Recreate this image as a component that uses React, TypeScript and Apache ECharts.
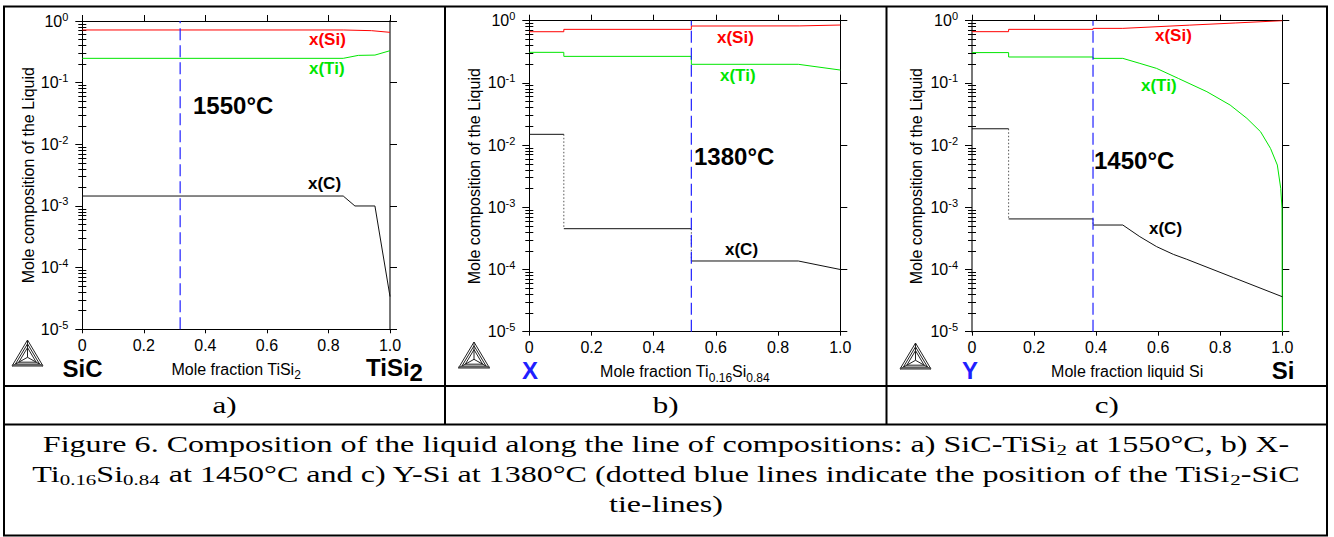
import React, { useEffect, useRef } from 'react';
import * as echarts from 'echarts';

// ---------- shared ticks ----------
const xTickValues = [0, 0.2, 0.4, 0.6, 0.8, 1.0];
const yDecades = [1e-5, 1e-4, 1e-3, 1e-2, 1e-1, 1];
const yMinor: number[] = [];
for (let d = -5; d < 0; d++) for (let k = 2; k <= 9; k++) yMinor.push(+(k * Math.pow(10, d)).toPrecision(3));

// ---------- panel a : SiC - TiSi2 at 1550 C ----------
const aSiX = [0, 0.848, 0.94, 1.0];
const aSiY = [0.715, 0.715, 0.697, 0.655];
const aTiX = [0, 0.848, 0.897, 0.951, 1.0];
const aTiY = [0.248, 0.248, 0.277, 0.28, 0.33];
const aCX = [0, 0.848, 0.886, 0.951, 1.0];
const aCY = [1.45e-3, 1.45e-3, 1.0e-3, 1.0e-3, 3.4e-5];
const aTie = 0.318;

// ---------- panel b : X - Ti0.16Si0.84 ----------
const bSiX = [0, 0.111, 0.111, 0.521, 0.521, 0.87, 1.0];
const bSiY = [0.665, 0.665, 0.726, 0.726, 0.821, 0.825, 0.852];
const bTiX = [0, 0.111, 0.111, 0.521, 0.521, 0.865, 1.0];
const bTiY = [0.31, 0.31, 0.267, 0.267, 0.199, 0.199, 0.161];
const bCX = [0, 0.111, 0.111, 0.521, 0.521, 0.865, 1.0];
const bCY = [0.0149, 0.0149, 4.53e-4, 4.53e-4, 1.37e-4, 1.37e-4, 1.0e-4];
const bTie = 0.521;

// ---------- panel c : Y - Si ----------
const cSiX = [0, 0.118, 0.118, 0.39, 0.39, 0.486, 0.7, 0.85, 1.0];
const cSiY = [0.666, 0.666, 0.726, 0.726, 0.753, 0.753, 0.848, 0.92, 1.0];
const cTiX = [0, 0.118, 0.118, 0.39, 0.39, 0.486, 0.541, 0.595, 0.665, 0.757, 0.832, 0.886, 0.93, 0.962, 0.984, 0.995, 0.999, 1.0];
const cTiY = [0.307, 0.307, 0.261, 0.261, 0.248, 0.248, 0.206, 0.171, 0.118, 0.0722, 0.044, 0.0269, 0.0164, 0.00885, 0.00478, 0.00201, 9.6e-4, 1e-5];
const cCX = [0, 0.118, 0.118, 0.39, 0.39, 0.486, 0.541, 0.595, 0.649, 0.692, 0.843, 1.0];
const cCY = [0.0183, 0.0183, 6.5e-4, 6.5e-4, 5.19e-4, 5.19e-4, 3.37e-4, 2.33e-4, 1.75e-4, 1.46e-4, 7.4e-5, 3.65e-5];
const cTie = 0.39;

// ---------- texts ----------
const yAxisName = 'Mole composition of the Liquid';
const xAxisNames = ['Mole fraction TiSi{s|2}', 'Mole fraction Ti{s|0.16}Si{s|0.84}', 'Mole fraction liquid Si'];
const temps = ['1550°C', '1380°C', '1450°C'];
const rowLabels = ['a)', 'b)', 'c)'];
const captionLines = [
  'Figure 6. Composition of the liquid along the line of compositions: a) SiC-TiSi{s|2} at 1550°C, b) X-',
  'Ti{s|0.16}Si{s|0.84} at 1450°C and c) Y-Si at 1380°C (dotted blue lines indicate the position of the TiSi{s|2}-SiC',
  'tie-lines)',
];

const SANS = 'Liberation Sans';
const SERIF = 'Liberation Serif';
const RED = '#ff0000';
const GREEN = '#00e600';
const BLUE = '#1f1fff';

const grids = [
  { left: 82.3, top: 21, width: 307.7, height: 308.3 },
  { left: 529.3, top: 20.7, width: 311, height: 311 },
  { left: 972, top: 20.7, width: 310.3, height: 311 },
];
const yNameGaps = [46, 47, 48];

const panels = [
  { si: [aSiX, aSiY], ti: [aTiX, aTiY], c: [aCX, aCY], tie: aTie },
  { si: [bSiX, bSiY], ti: [bTiX, bTiY], c: [bCX, bCY], tie: bTie },
  { si: [cSiX, cSiY], ti: [cTiX, cTiY], c: [cCX, cCY], tie: cTie },
];

function toPts(xs: number[], ys: number[]) {
  return xs.map((x, i) => [x, ys[i]]);
}
function withBreaks(xs: number[], ys: number[]) {
  const out: any[] = [];
  for (let i = 0; i < xs.length; i++) {
    if (i > 0 && xs[i] === xs[i - 1]) out.push([xs[i], '-']);
    out.push([xs[i], ys[i]]);
  }
  return out;
}
function jumps(xs: number[], ys: number[]) {
  const out: any[] = [];
  for (let i = 1; i < xs.length; i++) {
    if (xs[i] === xs[i - 1]) out.push([xs[i - 1], ys[i - 1]], [xs[i], ys[i]], [xs[i], '-']);
  }
  return out;
}

function buildOption() {
  const xAxis: any[] = [];
  const yAxis: any[] = [];
  const series: any[] = [];
  const lineBlack = { color: '#000', width: 1 };

  grids.forEach((g, p) => {
    xAxis.push({
      gridIndex: p, type: 'value', min: 0, max: 1, interval: 0.2, position: 'bottom',
      axisLine: { show: true, onZero: false, lineStyle: lineBlack },
      axisTick: { show: true, length: 4, lineStyle: lineBlack },
      axisLabel: {
        show: true, margin: 8, fontSize: 16, lineHeight: 16, fontFamily: SANS, color: '#000',
        customValues: xTickValues,
        formatter: (v: number) => (v === 0 ? '0' : v.toFixed(1)),
      },
      splitLine: { show: false },
      name: xAxisNames[p], nameLocation: 'middle', nameGap: 28,
      nameMoveOverlap: false,
      nameTextStyle: {
        fontSize: 16, fontFamily: SANS, color: '#000', lineHeight: 24,
        rich: {
          s: { fontSize: 12, fontFamily: SANS, color: '#000', lineHeight: 12, verticalAlign: 'bottom' },
        },
      },
    });
    xAxis.push({
      gridIndex: p, type: 'value', min: 0, max: 1, interval: 0.2, position: 'top',
      axisLine: { show: true, onZero: false, lineStyle: lineBlack },
      axisTick: { show: true, length: 6, lineStyle: lineBlack },
      axisLabel: { show: false },
      splitLine: { show: false },
    });
    const leftLine = p === 2 ? { color: '#777', width: 2 } : lineBlack;
    const rightLine = p === 0 ? { color: '#777', width: 2 } : lineBlack;
    yAxis.push({
      gridIndex: p, type: 'log', logBase: 10, min: 1e-5, max: 1, position: 'left',
      axisLine: { show: true, onZero: false, lineStyle: leftLine },
      axisTick: { show: true, length: 7, lineStyle: lineBlack, customValues: yDecades },
      axisLabel: {
        show: true, margin: 14, customValues: yDecades,
        formatter: (v: number) => `{b|10}{s|${Math.round(Math.log10(v))}}`,
        rich: {
          b: { fontSize: 16, fontFamily: SANS, color: '#000', lineHeight: 20 },
          s: { fontSize: 11, fontFamily: SANS, color: '#000', lineHeight: 12, verticalAlign: 'top' },
        },
      },
      splitLine: { show: false },
      name: yAxisName, nameLocation: 'middle', nameGap: yNameGaps[p], nameMoveOverlap: false,
      nameTextStyle: { fontSize: 16, fontFamily: SANS, color: '#000' },
    });
    yAxis.push({
      gridIndex: p, type: 'log', logBase: 10, min: 1e-5, max: 1, position: 'left',
      axisLine: { show: false },
      axisTick: { show: true, length: 4, lineStyle: lineBlack, customValues: yMinor },
      axisLabel: { show: false },
      splitLine: { show: false },
    });
    yAxis.push({
      gridIndex: p, type: 'log', logBase: 10, min: 1e-5, max: 1, position: 'right',
      axisLine: { show: true, onZero: false, lineStyle: rightLine },
      axisTick: { show: true, length: 7, lineStyle: lineBlack, customValues: yDecades },
      axisLabel: { show: false },
      splitLine: { show: false },
    });
    yAxis.push({
      gridIndex: p, type: 'log', logBase: 10, min: 1e-5, max: 1, position: 'right',
      axisLine: { show: false },
      axisTick: { show: true, length: 4, lineStyle: lineBlack, customValues: yMinor },
      axisLabel: { show: false },
      splitLine: { show: false },
    });

    const pn = panels[p];
    const base = {
      type: 'line', xAxisIndex: 2 * p, yAxisIndex: 4 * p, showSymbol: false, symbol: 'none',
      silent: true, connectNulls: false,
    };
    series.push({ ...base, name: 'x(Si)', data: toPts(pn.si[0], pn.si[1]), lineStyle: { color: RED, width: 1 }, z: 3 });
    series.push({ ...base, name: 'x(Ti)', data: toPts(pn.ti[0], pn.ti[1]), lineStyle: { color: GREEN, width: 1 }, z: 3 });
    series.push({ ...base, name: 'x(C)', data: withBreaks(pn.c[0], pn.c[1]), lineStyle: { color: '#111', width: 1 }, z: 3 });
    series.push({ ...base, name: 'x(C) step', data: jumps(pn.c[0], pn.c[1]), lineStyle: { color: '#555', width: 1, type: [1.5, 2] }, z: 2 });
    series.push({
      ...base, name: 'tie-line', data: [[pn.tie, 1e-5], [pn.tie, 1]],
      lineStyle: { color: BLUE, width: 1.2, type: [12, 5] }, z: 4,
    });
  });

  const graphic: any[] = [];
  const txt = (x: number, y: number, text: string, style: any) => ({
    type: 'text', x, y, silent: true,
    style: {
      text, fill: '#000', fontFamily: SANS, fontSize: 17, fontWeight: 'bold',
      align: 'left', verticalAlign: 'middle', textAlign: 'left', textVerticalAlign: 'middle',
      ...style,
    },
  });
  const center = { align: 'center', textAlign: 'center' };

  // temperatures
  graphic.push(txt(193, 105, temps[0], { fontSize: 24 }));
  graphic.push(txt(694, 156, temps[1], { fontSize: 24 }));
  graphic.push(txt(1094, 160, temps[2], { fontSize: 24 }));
  // series labels
  const lab = [
    [309, 39, 'x(Si)', RED], [309, 68, 'x(Ti)', GREEN], [308, 183, 'x(C)', '#000'],
    [717, 37, 'x(Si)', RED], [720, 75, 'x(Ti)', GREEN], [725, 249, 'x(C)', '#000'],
    [1155, 35, 'x(Si)', RED], [1141, 85, 'x(Ti)', GREEN], [1149, 228, 'x(C)', '#000'],
  ];
  lab.forEach(([x, y, t, c]) => graphic.push(txt(x as number, y as number, t as string, { fill: c })));
  // end members
  graphic.push(txt(82.5, 368, 'SiC', { fontSize: 24, lineHeight: 22, ...center }));
  graphic.push(txt(366, 367, '{b|TiSi}{s|2}', {
    rich: {
      b: { fontSize: 24, fontWeight: 'bold', fontFamily: SANS, fill: '#000', lineHeight: 34 },
      s: { fontSize: 24, fontWeight: 'bold', fontFamily: SANS, fill: '#000', lineHeight: 22, verticalAlign: 'bottom' },
    },
  }));
  graphic.push(txt(530, 370, 'X', { fontSize: 24, lineHeight: 22, fill: BLUE, ...center }));
  graphic.push(txt(970, 370, 'Y', { fontSize: 24, lineHeight: 22, fill: BLUE, ...center }));
  graphic.push(txt(1283, 370, 'Si', { fontSize: 24, lineHeight: 22, ...center }));

  // Thermo-Calc style logos
  const logo = (x0: number, y0: number) => {
    const A = [15.5, 0], B = [0, 26], C = [31, 26], G = [15.5, 17.3];
    const sc = (pt: number[], s: number) => [G[0] + (pt[0] - G[0]) * s, G[1] + (pt[1] - G[1]) * s];
    const children: any[] = [];
    [1, 0.78, 0.56].forEach((s) => {
      children.push({ type: 'polygon', shape: { points: [sc(A, s), sc(B, s), sc(C, s)] }, style: { fill: 'none', stroke: '#222', lineWidth: 1 } });
    });
    [A, B, C].forEach((v) => {
      children.push({ type: 'line', shape: { x1: G[0], y1: G[1], x2: v[0], y2: v[1] }, style: { stroke: '#222', lineWidth: 1 } });
    });
    children.push({ type: 'line', shape: { x1: 0, y1: 25, x2: 31, y2: 25 }, style: { stroke: '#555', lineWidth: 1.5 } });
    return { type: 'group', x: x0, y: y0, silent: true, children };
  };
  graphic.push(logo(12, 340), logo(458.5, 342), logo(900, 343));

  // table borders
  const L = (x1: number, y1: number, x2: number, y2: number) => ({
    type: 'line', silent: true, shape: { x1, y1, x2, y2 }, style: { stroke: '#000', lineWidth: 2 },
  });
  graphic.push(
    { type: 'rect', silent: true, shape: { x: 4, y: 6.5, width: 1323, height: 529 }, style: { fill: 'none', stroke: '#000', lineWidth: 2 } },
    L(4, 386, 1327, 386), L(4, 424.5, 1327, 424.5), L(445, 6.5, 445, 424.5), L(886.5, 6.5, 886.5, 424.5),
  );
  // row labels
  const rowX = [224.5, 665.75, 1106.75];
  rowLabels.forEach((t, i) => graphic.push({
    type: 'text', x: rowX[i], y: 405.5, scaleX: 1.35, silent: true,
    style: {
      text: t, fill: '#000', fontFamily: SERIF, fontSize: 23,
      align: 'center', verticalAlign: 'middle', textAlign: 'center', textVerticalAlign: 'middle',
    },
  }));
  // caption
  const capY = [444, 474, 504];
  const captionScale = 1.395;
  captionLines.forEach((t, i) => graphic.push({
    type: 'text', x: 666, y: capY[i], scaleX: captionScale, silent: true,
    style: {
      text: t, fill: '#000', fontFamily: SERIF, fontSize: 23, lineHeight: 28,
      align: 'center', verticalAlign: 'middle', textAlign: 'center', textVerticalAlign: 'middle',
      rich: {
        s: { fontFamily: SERIF, fontSize: 15, lineHeight: 15, verticalAlign: 'bottom', fill: '#000' },
      },
    },
  }));

  return {
    animation: false,
    backgroundColor: '#fff',
    textStyle: { fontFamily: SANS },
    grid: grids.map((g) => ({ ...g, containLabel: false, outerBoundsMode: 'none' })),
    xAxis, yAxis, series, graphic,
  };
}

export default function App() {
  const ref = useRef<HTMLDivElement>(null);
  useEffect(() => {
    const el = ref.current!;
    const chart = echarts.init(el, null, { renderer: 'svg', width: 1334, height: 537 });
    chart.setOption(buildOption() as any);
    return () => chart.dispose();
  }, []);
  return (
    <div
      ref={ref}
      style={{ position: 'absolute', left: 0, top: 0, width: 1334, height: 537, background: '#fff' }}
    />
  );
}
